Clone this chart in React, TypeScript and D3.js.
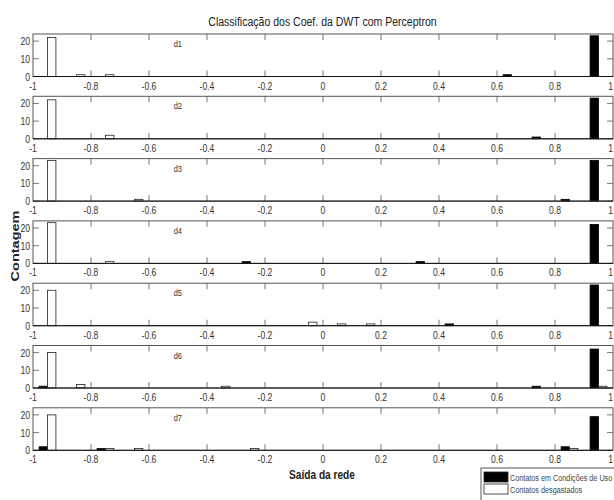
import React, { useRef, useEffect } from 'react';
import * as d3 from 'd3';

// bin centres of the histogram (network output)
const binCenters = [-0.95, -0.85, -0.75, -0.65, -0.55, -0.45, -0.35, -0.25, -0.15, -0.05,
  0.05, 0.15, 0.25, 0.35, 0.45, 0.55, 0.65, 0.75, 0.85, 0.95];

const panelNames = ['d1', 'd2', 'd3', 'd4', 'd5', 'd6', 'd7'];

// counts per bin: contacts in use condition (black)
const usedD1 = [0, 0, 0, 0, 0, 0, 0, 0, 0, 0, 0, 0, 0, 0, 0, 0, 1, 0, 0, 23];
const usedD2 = [0, 0, 0, 0, 0, 0, 0, 0, 0, 0, 0, 0, 0, 0, 0, 0, 0, 1, 0, 23];
const usedD3 = [0, 0, 0, 0, 0, 0, 0, 0, 0, 0, 0, 0, 0, 0, 0, 0, 0, 0, 1, 23];
const usedD4 = [0, 0, 0, 0, 0, 0, 0, 1, 0, 0, 0, 0, 0, 1, 0, 0, 0, 0, 0, 22];
const usedD5 = [0, 0, 0, 0, 0, 0, 0, 0, 0, 0, 0, 0, 0, 0, 1, 0, 0, 0, 0, 23];
const usedD6 = [1, 0, 0, 0, 0, 0, 0, 0, 0, 0, 0, 0, 0, 0, 0, 0, 0, 1, 0, 22];
const usedD7 = [2, 0, 1, 0, 0, 0, 0, 0, 0, 0, 0, 0, 0, 0, 0, 0, 0, 0, 2, 19];

// counts per bin: worn contacts (white)
const wornD1 = [22, 1, 1, 0, 0, 0, 0, 0, 0, 0, 0, 0, 0, 0, 0, 0, 0, 0, 0, 0];
const wornD2 = [22, 0, 2, 0, 0, 0, 0, 0, 0, 0, 0, 0, 0, 0, 0, 0, 0, 0, 0, 0];
const wornD3 = [23, 0, 0, 1, 0, 0, 0, 0, 0, 0, 0, 0, 0, 0, 0, 0, 0, 0, 0, 0];
const wornD4 = [23, 0, 1, 0, 0, 0, 0, 0, 0, 0, 0, 0, 0, 0, 0, 0, 0, 0, 0, 0];
const wornD5 = [20, 0, 0, 0, 0, 0, 0, 0, 0, 2, 1, 1, 0, 0, 0, 0, 0, 0, 0, 0];
const wornD6 = [20, 2, 0, 0, 0, 0, 1, 0, 0, 0, 0, 0, 0, 0, 0, 0, 0, 0, 0, 1];
const wornD7 = [20, 0, 1, 1, 0, 0, 0, 1, 0, 0, 0, 0, 0, 0, 0, 0, 0, 0, 1, 0];

const usedSeries = [usedD1, usedD2, usedD3, usedD4, usedD5, usedD6, usedD7];
const wornSeries = [wornD1, wornD2, wornD3, wornD4, wornD5, wornD6, wornD7];

const xTicks = [-1, -0.8, -0.6, -0.4, -0.2, 0, 0.2, 0.4, 0.6, 0.8, 1];
const yTicks = [0, 10, 20];

const legendLabels = ['Contatos em Condições de Uso', 'Contatos desgastados'];

const FONT = '"Liberation Sans", Arial, sans-serif';
const SQUEEZE = 0.78; // the original figure is narrowed horizontally

// text that is squeezed horizontally around its anchor point
const addText = (parent, x, y, str, size, anchor = 'start', weight = 'normal', fill = '#333') =>
  parent.append('text')
    .attr('transform', `translate(${x},${y}) scale(${SQUEEZE},1)`)
    .attr('text-anchor', anchor)
    .style('font-family', FONT)
    .style('font-size', `${size}px`)
    .style('font-weight', weight)
    .attr('fill', fill)
    .text(str);

const App = () => {
  const svgRef = useRef<SVGSVGElement>(null);

  useEffect(() => {
    const svg = d3.select(svgRef.current);
    svg.selectAll('*').remove();

    const width = 614;
    const left = 33;
    const right = 613;
    const firstTop = 34;
    const step = 62.3;
    const panelH = 42.5;
    const tickLen = 6;

    const x = d3.scaleLinear().domain([-1, 1]).range([left, right]);
    const barW = (x(0.1) - x(0)) * 0.29;

    svg.append('rect').attr('width', width).attr('height', 500).attr('fill', '#fff');

    // title
    addText(svg, 322.5, 26, 'Classificação dos Coef. da DWT com Perceptron', 13.5, 'middle', 'normal', '#222');

    panelNames.forEach((name, i) => {
      const top = firstTop + i * step;
      const y = d3.scaleLinear().domain([0, 24]).range([top + panelH, top]);
      const g = svg.append('g');

      // x ticks top and bottom (inward)
      xTicks.slice(1, -1).forEach(t => {
        g.append('line')
          .attr('x1', x(t)).attr('x2', x(t))
          .attr('y1', top).attr('y2', top + tickLen)
          .attr('stroke', '#777');
        g.append('line')
          .attr('x1', x(t)).attr('x2', x(t))
          .attr('y1', top + panelH).attr('y2', top + panelH - tickLen)
          .attr('stroke', '#777');
      });

      // y ticks left and right
      yTicks.forEach(t => {
        g.append('line')
          .attr('x1', left).attr('x2', left + tickLen)
          .attr('y1', y(t)).attr('y2', y(t))
          .attr('stroke', '#777');
        g.append('line')
          .attr('x1', right).attr('x2', right - tickLen)
          .attr('y1', y(t)).attr('y2', y(t))
          .attr('stroke', '#777');
        addText(g, left - 3, y(t) + 4, t, 11, 'end');
      });

      // bars: black (in use) left of centre, white (worn) right of centre
      const used = binCenters.map((c, k) => ({ c, v: usedSeries[i][k] })).filter(d => d.v > 0);
      const worn = binCenters.map((c, k) => ({ c, v: wornSeries[i][k] })).filter(d => d.v > 0);

      g.selectAll('.used')
        .data(used)
        .enter()
        .append('rect')
        .attr('x', d => x(d.c) - barW)
        .attr('y', d => y(d.v))
        .attr('width', barW)
        .attr('height', d => y(0) - y(d.v))
        .attr('fill', '#000')
        .attr('stroke', '#000')
        .attr('stroke-width', 0.8);

      g.selectAll('.worn')
        .data(worn)
        .enter()
        .append('rect')
        .attr('x', d => x(d.c))
        .attr('y', d => y(d.v))
        .attr('width', barW)
        .attr('height', d => y(0) - y(d.v))
        .attr('fill', '#fff')
        .attr('stroke', '#222')
        .attr('stroke-width', 0.8);

      // frame
      g.append('rect')
        .attr('x', left)
        .attr('y', top)
        .attr('width', right - left)
        .attr('height', panelH)
        .attr('fill', 'none')
        .attr('stroke', '#555')
        .attr('stroke-width', 1);
      g.append('line')
        .attr('x1', left).attr('x2', right)
        .attr('y1', top + panelH).attr('y2', top + panelH)
        .attr('stroke', '#111');

      // x tick labels
      xTicks.forEach((t, k) => {
        const last = k === xTicks.length - 1;
        addText(g, last ? 613 : x(t), top + panelH + 13, t, 11, last ? 'end' : 'middle');
      });

      // panel label
      addText(g, x(-0.515), top + 13, name, 9.5);
    });

    // axis labels
    svg.append('text')
      .attr('transform', `translate(18.5,246) scale(${SQUEEZE},1) rotate(-90)`)
      .attr('text-anchor', 'middle')
      .style('font-family', FONT)
      .style('font-weight', 'bold')
      .style('font-size', '14.5px')
      .attr('fill', '#222')
      .text('Contagem');

    addText(svg, 322, 479, 'Saída da rede', 13, 'middle', 'bold', '#222');

    // legend
    const legend = svg.append('g').attr('transform', 'translate(481,468)');
    legend.append('rect')
      .attr('width', 134).attr('height', 33)
      .attr('fill', '#fff').attr('stroke', '#555');
    legend.selectAll('.sw')
      .data(legendLabels)
      .enter()
      .append('rect')
      .attr('x', 3)
      .attr('y', (d, i) => 4 + i * 12)
      .attr('width', 24)
      .attr('height', 10)
      .attr('fill', (d, i) => (i === 0 ? '#000' : '#fff'))
      .attr('stroke', '#222')
      .attr('stroke-width', 0.8);
    legendLabels.forEach((d, i) => {
      addText(legend, 29, 12.5 + i * 12, d, 9.3, 'start', 'normal', '#444');
    });
  }, []);

  return (
    <svg
      ref={svgRef}
      width={614}
      height={500}
      style={{ position: 'absolute', left: 0, top: 0, display: 'block' }}
    />
  );
};

export default App;
